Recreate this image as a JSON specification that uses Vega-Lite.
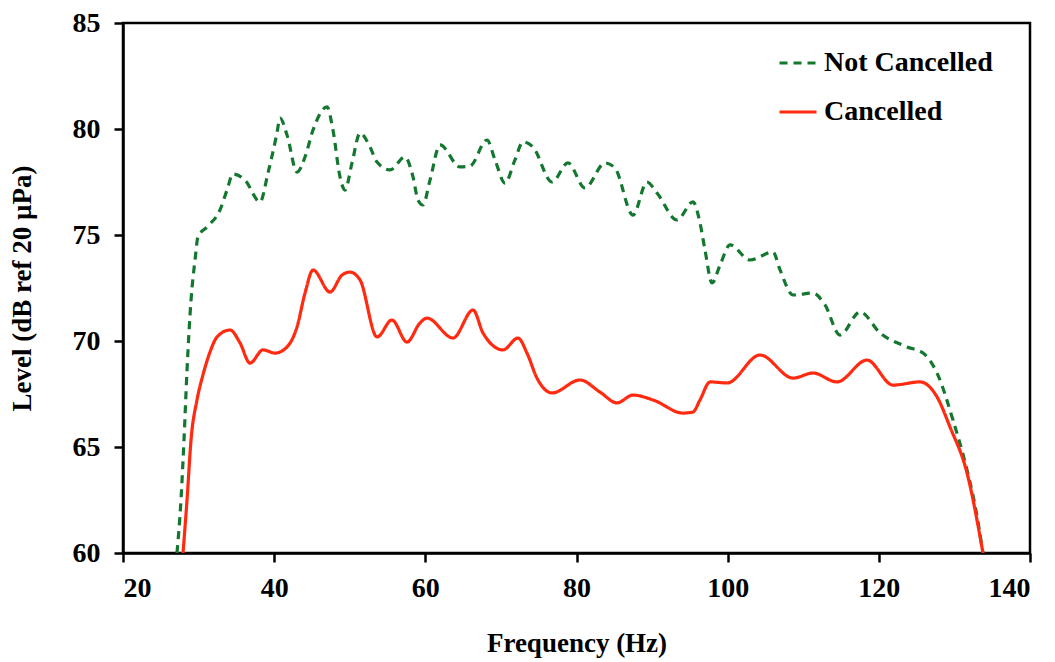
{
  "$schema": "https://vega.github.io/schema/vega-lite/v6.json",
  "width": 907,
  "height": 530,
  "autosize": {"type": "none"},
  "padding": {"left": 123, "top": 23, "right": 25, "bottom": 109},
  "background": "white",
  "config": {
    "view": {"stroke": "black", "strokeWidth": 2.5},
    "font": "Liberation Serif",
    "axis": {
      "grid": false,
      "domainColor": "black",
      "domainWidth": 2.5,
      "tickColor": "black",
      "tickWidth": 2.5,
      "tickSize": 9,
      "labelFont": "Liberation Serif",
      "labelFontWeight": "bold",
      "labelFontSize": 28,
      "labelColor": "black",
      "titleFont": "Liberation Serif",
      "titleFontWeight": "bold",
      "titleFontSize": 27,
      "titleColor": "black"
    },
    "legend": {
      "labelFont": "Liberation Serif",
      "labelFontWeight": "bold",
      "labelFontSize": 28,
      "labelColor": "black",
      "labelLimit": 400
    }
  },
  "datasets": {
    "spectra": [
      {"series": "Not Cancelled", "f": 27.14, "level": 60.0},
      {"series": "Not Cancelled", "f": 27.67, "level": 62.5},
      {"series": "Not Cancelled", "f": 28.07, "level": 65.33},
      {"series": "Not Cancelled", "f": 28.47, "level": 68.63},
      {"series": "Not Cancelled", "f": 29.0, "level": 71.93},
      {"series": "Not Cancelled", "f": 29.53, "level": 73.82},
      {"series": "Not Cancelled", "f": 29.92, "level": 74.91},
      {"series": "Not Cancelled", "f": 31.11, "level": 75.38},
      {"series": "Not Cancelled", "f": 32.83, "level": 76.18},
      {"series": "Not Cancelled", "f": 33.76, "level": 77.12},
      {"series": "Not Cancelled", "f": 34.55, "level": 77.88},
      {"series": "Not Cancelled", "f": 36.14, "level": 77.59},
      {"series": "Not Cancelled", "f": 38.13, "level": 76.56},
      {"series": "Not Cancelled", "f": 39.18, "level": 77.92},
      {"series": "Not Cancelled", "f": 40.37, "level": 79.81},
      {"series": "Not Cancelled", "f": 40.77, "level": 80.52},
      {"series": "Not Cancelled", "f": 41.7, "level": 79.72},
      {"series": "Not Cancelled", "f": 43.02, "level": 77.97},
      {"series": "Not Cancelled", "f": 44.08, "level": 78.68},
      {"series": "Not Cancelled", "f": 45.14, "level": 79.95},
      {"series": "Not Cancelled", "f": 46.99, "level": 81.04},
      {"series": "Not Cancelled", "f": 47.78, "level": 79.95},
      {"series": "Not Cancelled", "f": 48.71, "level": 77.74},
      {"series": "Not Cancelled", "f": 49.37, "level": 77.12},
      {"series": "Not Cancelled", "f": 50.3, "level": 78.4},
      {"series": "Not Cancelled", "f": 51.36, "level": 79.81},
      {"series": "Not Cancelled", "f": 52.68, "level": 79.15},
      {"series": "Not Cancelled", "f": 53.61, "level": 78.44},
      {"series": "Not Cancelled", "f": 55.33, "level": 78.07},
      {"series": "Not Cancelled", "f": 57.31, "level": 78.68},
      {"series": "Not Cancelled", "f": 58.37, "level": 77.74},
      {"series": "Not Cancelled", "f": 59.03, "level": 76.65},
      {"series": "Not Cancelled", "f": 59.69, "level": 76.42},
      {"series": "Not Cancelled", "f": 60.62, "level": 77.59},
      {"series": "Not Cancelled", "f": 61.94, "level": 79.25},
      {"series": "Not Cancelled", "f": 64.59, "level": 78.21},
      {"series": "Not Cancelled", "f": 65.91, "level": 78.25},
      {"series": "Not Cancelled", "f": 68.16, "level": 79.48},
      {"series": "Not Cancelled", "f": 69.22, "level": 78.54},
      {"series": "Not Cancelled", "f": 70.54, "level": 77.45},
      {"series": "Not Cancelled", "f": 71.86, "level": 78.54},
      {"series": "Not Cancelled", "f": 72.92, "level": 79.39},
      {"series": "Not Cancelled", "f": 74.24, "level": 79.15},
      {"series": "Not Cancelled", "f": 76.76, "level": 77.5},
      {"series": "Not Cancelled", "f": 78.87, "level": 78.4},
      {"series": "Not Cancelled", "f": 81.12, "level": 77.22},
      {"series": "Not Cancelled", "f": 83.77, "level": 78.4},
      {"series": "Not Cancelled", "f": 85.09, "level": 78.16},
      {"series": "Not Cancelled", "f": 87.47, "level": 75.94},
      {"series": "Not Cancelled", "f": 89.32, "level": 77.5},
      {"series": "Not Cancelled", "f": 90.65, "level": 76.98},
      {"series": "Not Cancelled", "f": 93.3, "level": 75.71},
      {"series": "Not Cancelled", "f": 95.41, "level": 76.56},
      {"series": "Not Cancelled", "f": 96.34, "level": 75.57},
      {"series": "Not Cancelled", "f": 97.0, "level": 74.29},
      {"series": "Not Cancelled", "f": 97.93, "level": 72.74},
      {"series": "Not Cancelled", "f": 98.99, "level": 73.58},
      {"series": "Not Cancelled", "f": 100.31, "level": 74.53},
      {"series": "Not Cancelled", "f": 102.96, "level": 73.82},
      {"series": "Not Cancelled", "f": 106.0, "level": 74.2},
      {"series": "Not Cancelled", "f": 106.93, "level": 73.35},
      {"series": "Not Cancelled", "f": 108.65, "level": 72.17},
      {"series": "Not Cancelled", "f": 111.29, "level": 72.26},
      {"series": "Not Cancelled", "f": 112.88, "level": 71.7},
      {"series": "Not Cancelled", "f": 114.86, "level": 70.28},
      {"series": "Not Cancelled", "f": 117.51, "level": 71.37},
      {"series": "Not Cancelled", "f": 120.16, "level": 70.38},
      {"series": "Not Cancelled", "f": 123.73, "level": 69.72},
      {"series": "Not Cancelled", "f": 125.85, "level": 69.43},
      {"series": "Not Cancelled", "f": 127.7, "level": 68.49},
      {"series": "Not Cancelled", "f": 129.81, "level": 66.27},
      {"series": "Not Cancelled", "f": 131.67, "level": 63.91},
      {"series": "Not Cancelled", "f": 132.72, "level": 62.26},
      {"series": "Not Cancelled", "f": 133.78, "level": 60.0},
      {"series": "Cancelled", "f": 27.94, "level": 60.0},
      {"series": "Cancelled", "f": 28.47, "level": 62.5},
      {"series": "Cancelled", "f": 29.0, "level": 65.33},
      {"series": "Cancelled", "f": 29.79, "level": 67.22},
      {"series": "Cancelled", "f": 30.58, "level": 68.4},
      {"series": "Cancelled", "f": 31.51, "level": 69.48},
      {"series": "Cancelled", "f": 32.44, "level": 70.19},
      {"series": "Cancelled", "f": 34.16, "level": 70.52},
      {"series": "Cancelled", "f": 35.48, "level": 69.91},
      {"series": "Cancelled", "f": 36.8, "level": 68.96},
      {"series": "Cancelled", "f": 38.53, "level": 69.58},
      {"series": "Cancelled", "f": 40.11, "level": 69.43},
      {"series": "Cancelled", "f": 41.7, "level": 69.72},
      {"series": "Cancelled", "f": 43.02, "level": 70.66},
      {"series": "Cancelled", "f": 44.08, "level": 72.26},
      {"series": "Cancelled", "f": 45.14, "level": 73.35},
      {"series": "Cancelled", "f": 47.39, "level": 72.31},
      {"series": "Cancelled", "f": 48.98, "level": 73.11},
      {"series": "Cancelled", "f": 50.03, "level": 73.25},
      {"series": "Cancelled", "f": 51.36, "level": 72.88},
      {"series": "Cancelled", "f": 53.61, "level": 70.19},
      {"series": "Cancelled", "f": 55.59, "level": 70.99},
      {"series": "Cancelled", "f": 57.57, "level": 69.95},
      {"series": "Cancelled", "f": 59.29, "level": 70.85},
      {"series": "Cancelled", "f": 60.22, "level": 71.08},
      {"series": "Cancelled", "f": 63.66, "level": 70.14},
      {"series": "Cancelled", "f": 66.31, "level": 71.46},
      {"series": "Cancelled", "f": 67.63, "level": 70.38},
      {"series": "Cancelled", "f": 70.27, "level": 69.58},
      {"series": "Cancelled", "f": 72.26, "level": 70.14},
      {"series": "Cancelled", "f": 73.45, "level": 69.43},
      {"series": "Cancelled", "f": 74.77, "level": 68.25},
      {"series": "Cancelled", "f": 76.76, "level": 67.55},
      {"series": "Cancelled", "f": 80.46, "level": 68.16},
      {"series": "Cancelled", "f": 83.11, "level": 67.59},
      {"series": "Cancelled", "f": 85.36, "level": 67.08},
      {"series": "Cancelled", "f": 87.47, "level": 67.45},
      {"series": "Cancelled", "f": 90.12, "level": 67.22},
      {"series": "Cancelled", "f": 94.09, "level": 66.6},
      {"series": "Cancelled", "f": 95.41, "level": 66.65},
      {"series": "Cancelled", "f": 96.34, "level": 67.22},
      {"series": "Cancelled", "f": 97.67, "level": 68.07},
      {"series": "Cancelled", "f": 99.92, "level": 68.02},
      {"series": "Cancelled", "f": 104.28, "level": 69.34},
      {"series": "Cancelled", "f": 108.65, "level": 68.25},
      {"series": "Cancelled", "f": 111.29, "level": 68.49},
      {"series": "Cancelled", "f": 114.46, "level": 68.07},
      {"series": "Cancelled", "f": 118.43, "level": 69.1},
      {"series": "Cancelled", "f": 121.87, "level": 67.92},
      {"series": "Cancelled", "f": 125.45, "level": 68.07},
      {"series": "Cancelled", "f": 127.7, "level": 67.36},
      {"series": "Cancelled", "f": 129.42, "level": 65.94},
      {"series": "Cancelled", "f": 131.67, "level": 63.77},
      {"series": "Cancelled", "f": 133.78, "level": 60.0}
    ]
  },
  "data": {"name": "spectra"},
  "mark": {"type": "line", "interpolate": "monotone", "strokeWidth": 3.2, "clip": true},
  "encoding": {
    "x": {
      "field": "f",
      "type": "quantitative",
      "scale": {"domain": [20, 140], "nice": false, "zero": false},
      "axis": {"values": [20, 40, 60, 80, 100, 120, 140], "title": "Frequency (Hz)", "titlePadding": 28, "labelPadding": 12}
    },
    "y": {
      "field": "level",
      "type": "quantitative",
      "scale": {"domain": [60, 85], "nice": false, "zero": false},
      "axis": {"values": [60, 65, 70, 75, 80, 85], "title": "Level (dB ref 20 µPa)", "titlePadding": 36, "labelPadding": 14}
    },
    "color": {
      "field": "series",
      "type": "nominal",
      "scale": {"domain": ["Not Cancelled", "Cancelled"], "range": ["#13772f", "#ff2a10"]},
      "legend": {
        "title": null,
        "orient": "none",
        "legendX": 655,
        "legendY": 20,
        "symbolType": "stroke",
        "symbolSize": 1369,
        "symbolStrokeWidth": 3,
        "labelOffset": 6,
        "rowPadding": 15
      }
    },
    "strokeDash": {
      "field": "series",
      "type": "nominal",
      "scale": {"domain": ["Not Cancelled", "Cancelled"], "range": [[8, 6], [1, 0]]},
      "legend": {
        "title": null,
        "orient": "none",
        "legendX": 655,
        "legendY": 20,
        "symbolType": "stroke",
        "symbolSize": 1369,
        "symbolStrokeWidth": 3,
        "labelOffset": 6,
        "rowPadding": 15
      }
    }
  }
}
